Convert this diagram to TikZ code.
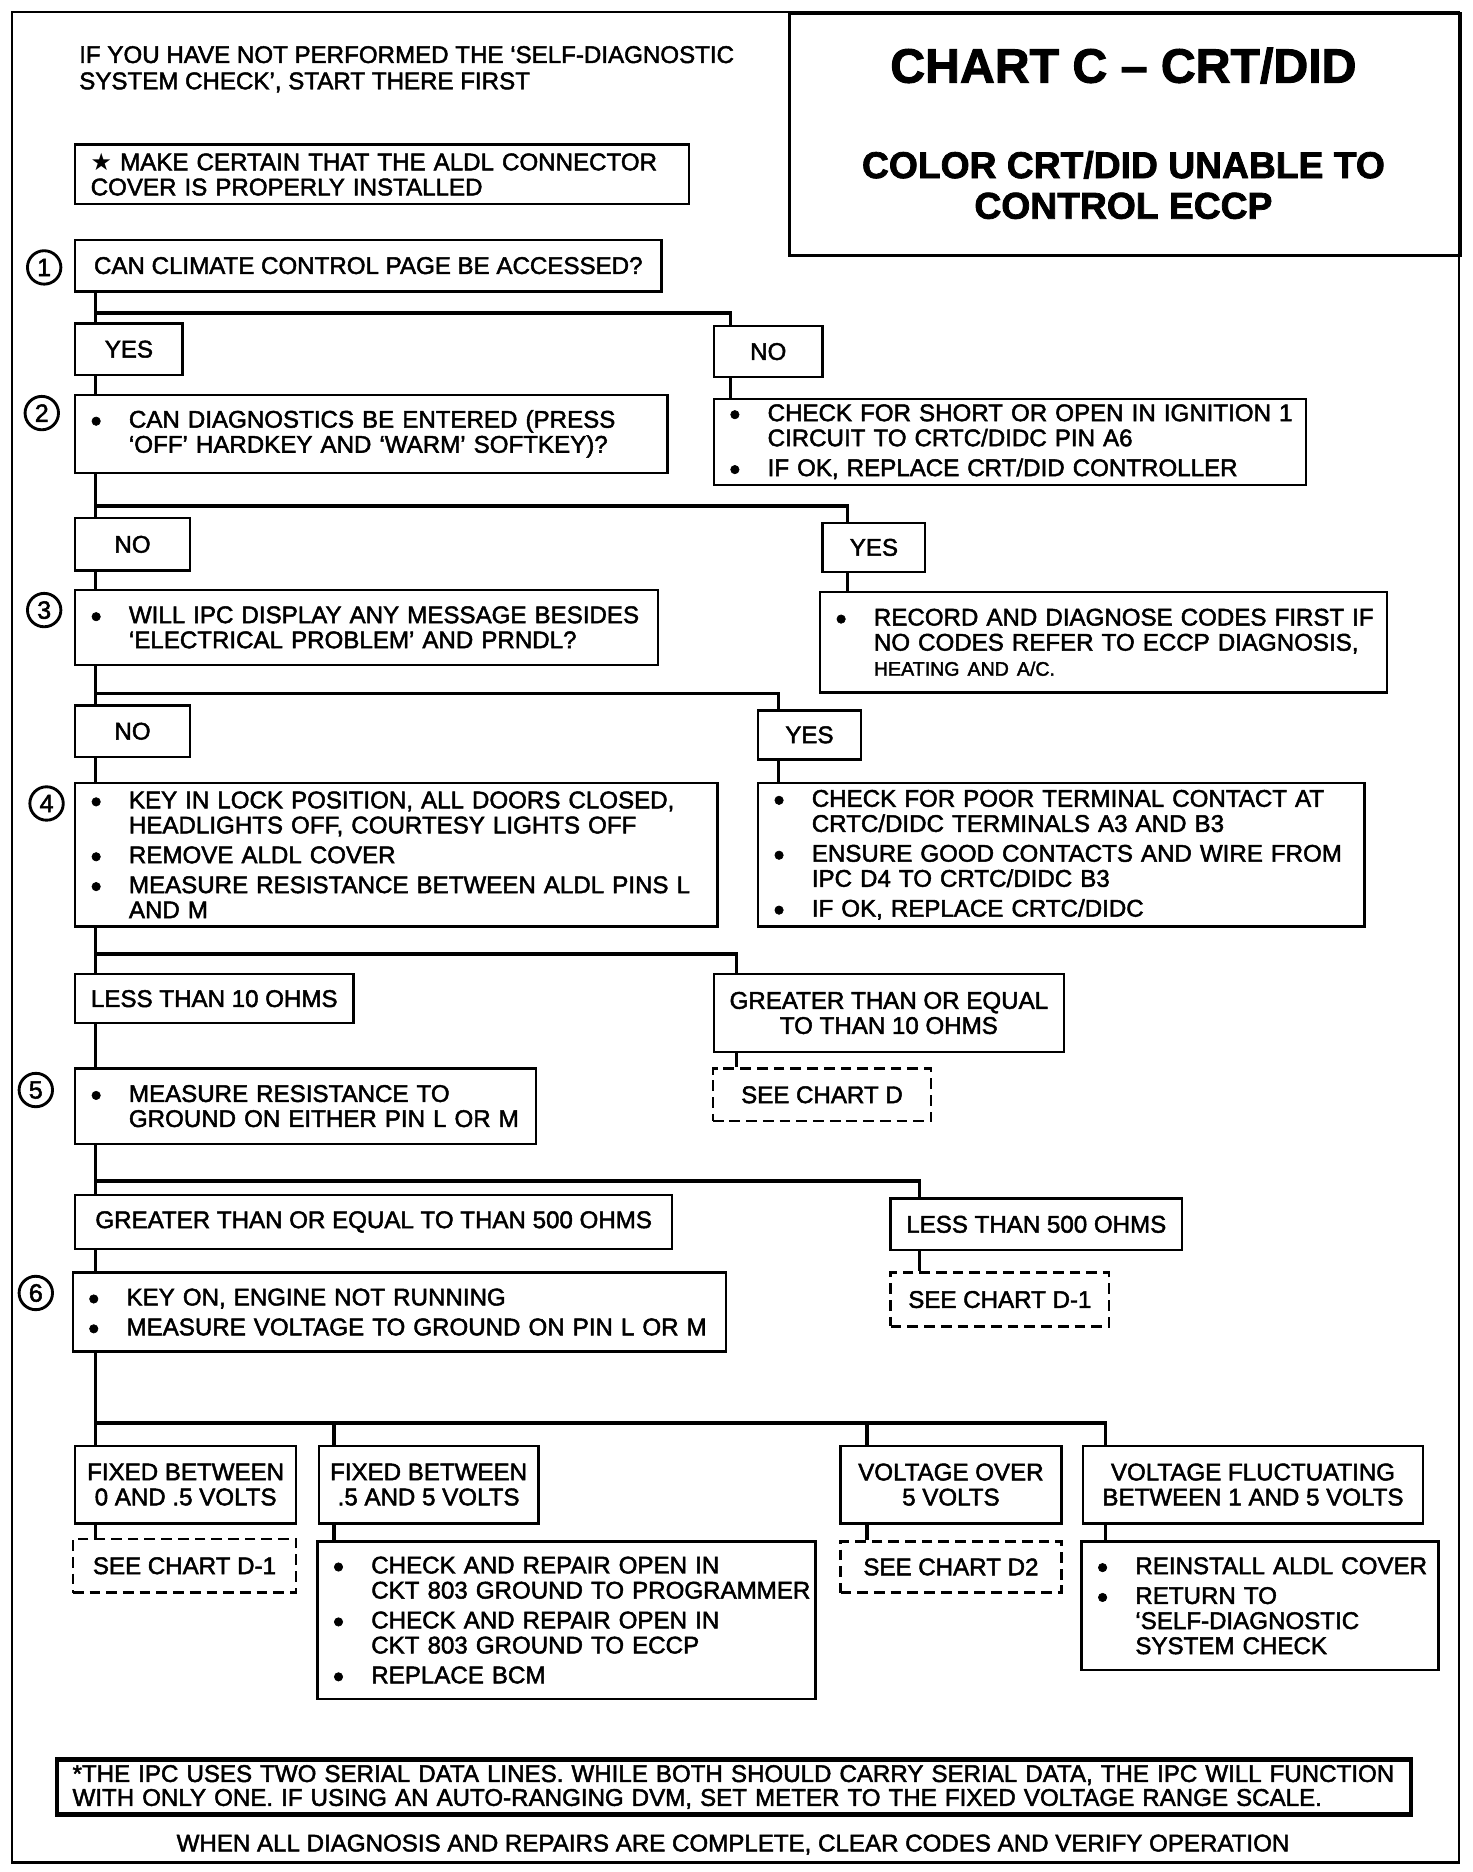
\documentclass[tikz,border=0pt]{standalone}
\usepackage{fontspec}
\setmainfont{Liberation Sans}[FakeBold=2]
\newfontfamily\symfont{DejaVu Sans}
\newcommand{\blt}[1]{\makebox[16pt][l]{\raisebox{-1.6pt}[0pt][0pt]{\fontsize{13}{10}\selectfont\textbullet}}\mbox{#1}}
\newcommand{\nxt}[1]{\hspace*{16pt}\mbox{#1}}

\begin{document}
\begin{tikzpicture}[x=0.5pt,y=-0.5pt,
  every node/.style={font=\fontsize{10.1}{10.5}\selectfont},
  box/.style={draw,line width=1pt,anchor=north west,inner xsep=6.5pt,inner ysep=0pt},
  lbox/.style={box,align=left},
  cbox/.style={box,align=center,inner xsep=3pt},
  chartbox/.style={cbox,dash pattern=on 4.5pt off 2.5pt},
  conn/.style={line width=1.5pt},
  numcirc/.style={draw,circle,line width=1.2pt,minimum size=14pt,inner sep=0pt,font=\fontsize{10.5}{10.5}\selectfont}]
  \useasboundingbox (0,0) rectangle (1233,1568);
  \draw[line width=1pt] (10,10) rectangle (1222,1560);
  \coordinate (trunk) at (80,0);
  % Heading and title block
  \node[anchor=west,inner sep=0pt,align=left,font=\fontsize{10.1}{11}\selectfont] (intro) at (66,58)
        {IF YOU HAVE NOT PERFORMED THE `SELF-DIAGNOSTIC\\SYSTEM CHECK', START THERE FIRST};
  \node[box,line width=1.2pt,minimum width=281pt,minimum height=101.5pt] (titlebox) at (660,10) {};
  \node[font=\fontsize{20.2}{22}\selectfont\bfseries] (title) at (941,55) {CHART C -- CRT/DID};
  \node[align=center,font=\fontsize{15.6}{17}\selectfont\bfseries] (subtitle) at (941,155)
        {COLOR CRT/DID UNABLE TO\\CONTROL ECCP};
  \node[lbox,text width=244pt,minimum height=25pt] (cover) at (62,120)
        {\mbox{{\symfont\fontsize{10}{9}\selectfont ★} MAKE CERTAIN THAT THE ALDL CONNECTOR}\\\mbox{COVER IS PROPERLY INSTALLED}};
  % Steps 1 to 3
  \node[numcirc] (n1) at (37,224) {1};
  \node[cbox,minimum width=245.5pt,minimum height=21.5pt] (q1) at (62,200) {CAN CLIMATE CONTROL PAGE BE ACCESSED?};
  \node[cbox,minimum width=45pt,minimum height=21.5pt] (yes1) at (62,270) {YES};
  \node[cbox,minimum width=45.5pt,minimum height=21.5pt] (no1) at (597,272) {NO};
  \node[numcirc] (n2) at (35,346) {2};
  \node[lbox,text width=235pt,minimum height=32.5pt] (q2) at (62,330)
        {\blt{CAN DIAGNOSTICS BE ENTERED (PRESS}\\\nxt{`OFF' HARDKEY AND `WARM' SOFTKEY)?}};
  \node[lbox,text width=235pt,minimum height=36pt] (r1) at (597,333)
        {\blt{CHECK FOR SHORT OR OPEN IN IGNITION 1}\\\nxt{CIRCUIT TO CRTC/DIDC PIN A6}\\[2pt]\blt{IF OK, REPLACE CRT/DID CONTROLLER}};
  \node[cbox,minimum width=48pt,minimum height=22pt] (no2) at (62,433) {NO};
  \node[cbox,minimum width=43pt,minimum height=20.5pt] (yes2) at (688,437) {YES};
  \node[numcirc] (n3) at (37,511) {3};
  \node[lbox,text width=231pt,minimum height=31.5pt] (q3) at (62,493)
        {\blt{WILL IPC DISPLAY ANY MESSAGE BESIDES}\\\nxt{`ELECTRICAL PROBLEM' AND PRNDL?}};
  \node[lbox,text width=224.5pt,minimum height=42pt] (r2) at (686,495)
        {\blt{RECORD AND DIAGNOSE CODES FIRST IF}\\\nxt{NO CODES REFER TO ECCP DIAGNOSIS,}\\\nxt{\fontsize{8.2}{9}\selectfont HEATING AND A/C.}};
  \node[cbox,minimum width=48pt,minimum height=21.5pt] (no3) at (62,590) {NO};
  \node[cbox,minimum width=43pt,minimum height=20.5pt] (yes3) at (634,594) {YES};
  % Steps 4 and 5
  \node[numcirc] (n4) at (39,673) {4};
  \node[lbox,text width=256pt,minimum height=60pt] (q4) at (62,655)
        {\blt{KEY IN LOCK POSITION, ALL DOORS CLOSED,}\\\nxt{HEADLIGHTS OFF, COURTESY LIGHTS OFF}\\[2pt]\blt{REMOVE ALDL COVER}\\[2pt]\blt{MEASURE RESISTANCE BETWEEN ALDL PINS L}\\\nxt{AND M}};
  \node[lbox,text width=241pt,minimum height=60pt] (r3) at (634,655)
        {\blt{CHECK FOR POOR TERMINAL CONTACT AT}\\\nxt{CRTC/DIDC TERMINALS A3 AND B3}\\[2pt]\blt{ENSURE GOOD CONTACTS AND WIRE FROM}\\\nxt{IPC D4 TO CRTC/DIDC B3}\\[2pt]\blt{IF OK, REPLACE CRTC/DIDC}};
  \node[cbox,minimum width=116.5pt,minimum height=20.5pt] (lt10) at (62,815) {LESS THAN 10 OHMS};
  \node[cbox,minimum width=146.5pt,minimum height=32.5pt] (ge10) at (597,815) {GREATER THAN OR EQUAL\\TO THAN 10 OHMS};
  \node[chartbox,minimum width=91.5pt,minimum height=22pt] (chd) at (596,894) {SEE CHART D};
  \node[numcirc] (n5) at (30,913) {5};
  \node[lbox,text width=180pt,minimum height=31.5pt] (q5) at (62,894)
        {\blt{MEASURE RESISTANCE TO}\\\nxt{GROUND ON EITHER PIN L OR M}};
  \node[cbox,minimum width=250pt,minimum height=22.5pt] (ge500) at (62,1000) {GREATER THAN OR EQUAL TO THAN 500 OHMS};
  \node[cbox,minimum width=122pt,minimum height=21.5pt] (lt500) at (745,1003) {LESS THAN 500 OHMS};
  \node[chartbox,minimum width=91.5pt,minimum height=22.5pt] (chd1a) at (745,1065) {SEE CHART D-1};
  % Step 6 and the voltage readings
  \node[numcirc] (n6) at (30,1083) {6};
  \node[lbox,text width=260.5pt,minimum height=33pt] (q6) at (60,1065)
        {\blt{KEY ON, ENGINE NOT RUNNING}\\[2pt]\blt{MEASURE VOLTAGE TO GROUND ON PIN L OR M}};
  \node[cbox,minimum width=92.5pt,minimum height=32.5pt] (fb1) at (62,1210) {FIXED BETWEEN\\0 AND .5 VOLTS};
  \node[cbox,minimum width=92pt,minimum height=32.5pt] (fb2) at (266,1210) {FIXED BETWEEN\\.5 AND 5 VOLTS};
  \node[cbox,minimum width=92.5pt,minimum height=32.5pt] (vo) at (703,1210) {VOLTAGE OVER\\5 VOLTS};
  \node[cbox,minimum width=142.5pt,minimum height=32.5pt] (vf) at (906,1210) {VOLTAGE FLUCTUATING\\BETWEEN 1 AND 5 VOLTS};
  \node[chartbox,minimum width=93.5pt,minimum height=22.5pt] (chd1b) at (60,1288) {SEE CHART D-1};
  \node[lbox,text width=195.5pt,minimum height=66pt] (r4) at (265,1290)
        {\blt{CHECK AND REPAIR OPEN IN}\\\nxt{CKT 803 GROUND TO PROGRAMMER}\\[2pt]\blt{CHECK AND REPAIR OPEN IN}\\\nxt{CKT 803 GROUND TO ECCP}\\[2pt]\blt{REPLACE BCM}};
  \node[chartbox,minimum width=92.5pt,minimum height=21.5pt] (chd2) at (703,1290) {SEE CHART D2};
  \node[lbox,text width=136.5pt,minimum height=54pt] (r5) at (905,1290)
        {\blt{REINSTALL ALDL COVER}\\[2pt]\blt{RETURN TO}\\\nxt{`SELF-DIAGNOSTIC}\\\nxt{SYSTEM CHECK}};
  % Footnote
  \node[lbox,line width=1.8pt,text width=554pt,minimum height=23pt,font=\fontsize{10.1}{10}\selectfont] (note) at (46,1472)
        {\mbox{*THE IPC USES TWO SERIAL DATA LINES. WHILE BOTH SHOULD CARRY SERIAL DATA, THE IPC WILL FUNCTION}\\\mbox{WITH ONLY ONE. IF USING AN AUTO-RANGING DVM, SET METER TO THE FIXED VOLTAGE RANGE SCALE.}};
  \node (footer) at (614,1545) {WHEN ALL DIAGNOSIS AND REPAIRS ARE COMPLETE, CLEAR CODES AND VERIFY OPERATION};
  % Connectors
  \draw[conn] (q1.south -| trunk) -- (yes1.north -| trunk);
  \draw[conn] (q1.south -| trunk) -- ++(0,17) -| ([xshift=7.5pt]no1.north west);
  \draw[conn] (yes1.south -| trunk) -- (q2.north -| trunk);
  \draw[conn] ([xshift=7.5pt]no1.south west) -- ([xshift=7.5pt]r1.north west);
  \draw[conn] (q2.south -| trunk) -- (no2.north -| trunk);
  \draw[conn] (q2.south -| trunk) -- ++(0,27) -| ([xshift=11pt]yes2.north west);
  \draw[conn] (no2.south -| trunk) -- (q3.north -| trunk);
  \draw[conn] ([xshift=11pt]yes2.south west) -- ([xshift=12pt]r2.north west);
  \draw[conn] (q3.south -| trunk) -- (no3.north -| trunk);
  \draw[conn] (q3.south -| trunk) -- ++(0,23) -| ([xshift=9pt]yes3.north west);
  \draw[conn] (no3.south -| trunk) -- (q4.north -| trunk);
  \draw[conn] ([xshift=9pt]yes3.south west) -- ([xshift=9pt]r3.north west);
  \draw[conn] (q4.south -| trunk) -- (lt10.north -| trunk);
  \draw[conn] (q4.south -| trunk) -- ++(0,22) -| ([xshift=10pt]ge10.north west);
  \draw[conn] (lt10.south -| trunk) -- (q5.north -| trunk);
  \draw[conn] ([xshift=10pt]ge10.south west) -- ([xshift=10.5pt]chd.north west);
  \draw[conn] (q5.south -| trunk) -- (ge500.north -| trunk);
  \draw[conn] (q5.south -| trunk) -- ++(0,30) -| ([xshift=12.5pt]lt500.north west);
  \draw[conn] (ge500.south -| trunk) -- (q6.north -| trunk);
  \draw[conn] ([xshift=12.5pt]lt500.south west) -- ([xshift=12.5pt]chd1a.north west);
  \draw[conn] (q6.south -| trunk) -- (fb1.north -| trunk);
  \draw[conn] (q6.south -| trunk) -- ++(0,59) -| ([xshift=10pt]vf.north west);
  \draw[conn] ([xshift=7pt]fb2.north west) -- ++(0,-20);
  \draw[conn] ([xshift=11.5pt]vo.north west) -- ++(0,-20);
  \draw[conn] (fb1.south -| trunk) -- (chd1b.north -| trunk);
  \draw[conn] ([xshift=7pt]fb2.south west) -- ([xshift=7.5pt]r4.north west);
  \draw[conn] ([xshift=11.5pt]vo.south west) -- ([xshift=11.5pt]chd2.north west);
  \draw[conn] ([xshift=10pt]vf.south west) -- ([xshift=10.5pt]r5.north west);
\end{tikzpicture}
\end{document}
